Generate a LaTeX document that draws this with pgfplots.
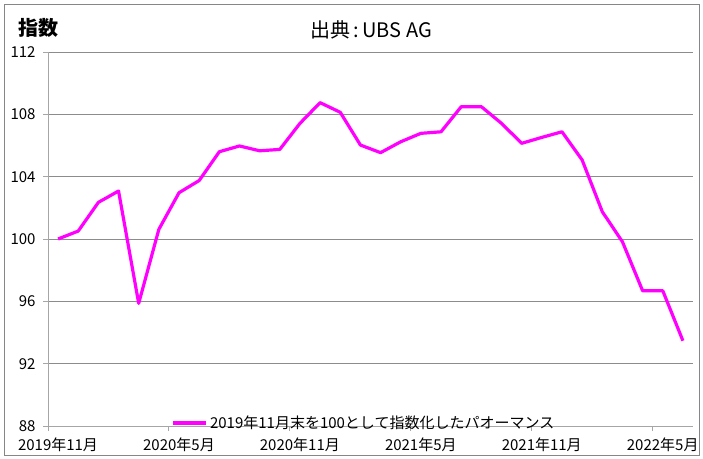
\documentclass[border=0pt]{standalone}
\usepackage{fontspec}
\setmainfont{Noto Sans CJK JP}
\usepackage{pgfplots}
\pgfplotsset{compat=1.18}
\definecolor{idxline}{HTML}{FF00FF}
\definecolor{gridc}{HTML}{8C8C8C}
\definecolor{axisc}{HTML}{A6A6A6}
\definecolor{framec}{HTML}{868686}

\pgfplotstableread{
m v
0 100.00
1 100.51
2 102.35
3 103.08
4 95.87
5 100.62
6 102.97
7 103.75
8 105.60
9 105.97
10 105.66
11 105.75
12 107.42
13 108.75
14 108.13
15 106.03
16 105.54
17 106.24
18 106.78
19 106.88
20 108.49
21 108.49
22 107.42
23 106.14
24 106.52
25 106.88
26 105.07
27 101.75
28 99.82
29 96.68
30 96.68
31 93.47
}\idx

\begin{document}
\begin{tikzpicture}
\begin{axis}[
  at={(0,0)}, anchor=south west,
  scale only axis, width=645bp, height=374bp,
  xmin=-0.5, xmax=31.5, ymin=88, ymax=112,
  axis x line*=bottom, axis y line*=left,
  axis line style={axisc, line width=0.9pt},
  xtick={-0.5,5.5,11.5,17.5,23.5,29.5},
  xticklabels={2019年11月,2020年5月,2020年11月,2021年5月,2021年11月,2022年5月},
  x tick label style={xshift=10bp, yshift=-3bp, font=\fontsize{15bp}{17bp}\selectfont},
  ytick={88,92,...,112},
  y tick label style={xshift=-4bp, font=\fontsize{15bp}{17bp}\selectfont},
  /pgf/number format/assume math mode=true,
  tick align=outside, major tick length=5bp,
  tick style={axisc, line width=0.9pt},
  ymajorgrids, grid style={gridc, line width=0.9pt},
  legend style={at={(rel axis cs:0.49,0.008)}, anchor=center, draw=none, fill=none,
    font=\fontsize{15bp}{17bp}\selectfont, inner sep=0pt,
    /tikz/every even column/.append style={column sep=2bp}},
  legend cell align=left,
  legend image code/.code={\draw[#1] (0bp,0bp) -- (33bp,0bp);},
  clip=false,
]
\addplot[idxline, line width=3.2pt, line join=round, no marks] table[x=m, y=v] {\idx};
\addlegendentry{2019年11月末を100として指数化したパオーマンス}
\end{axis}
\node[anchor=center, font=\fontsize{20bp}{22bp}\selectfont\bfseries] at ([shift={(-10bp,398bp)}]current axis.south west) {指数};
\node[anchor=center, font=\fontsize{20bp}{22bp}\selectfont] at ([shift={(323bp,396bp)}]current axis.south west) {出典\,:\,UBS AG};
\draw[framec, line width=0.9pt] ([shift={(-44bp,-29bp)}]current axis.south west) rectangle ([shift={(651bp,422bp)}]current axis.south west);
\path[use as bounding box] ([shift={(-48bp,-33bp)}]current axis.south west) rectangle ([shift={(655bp,426bp)}]current axis.south west);
\end{tikzpicture}
\end{document}
